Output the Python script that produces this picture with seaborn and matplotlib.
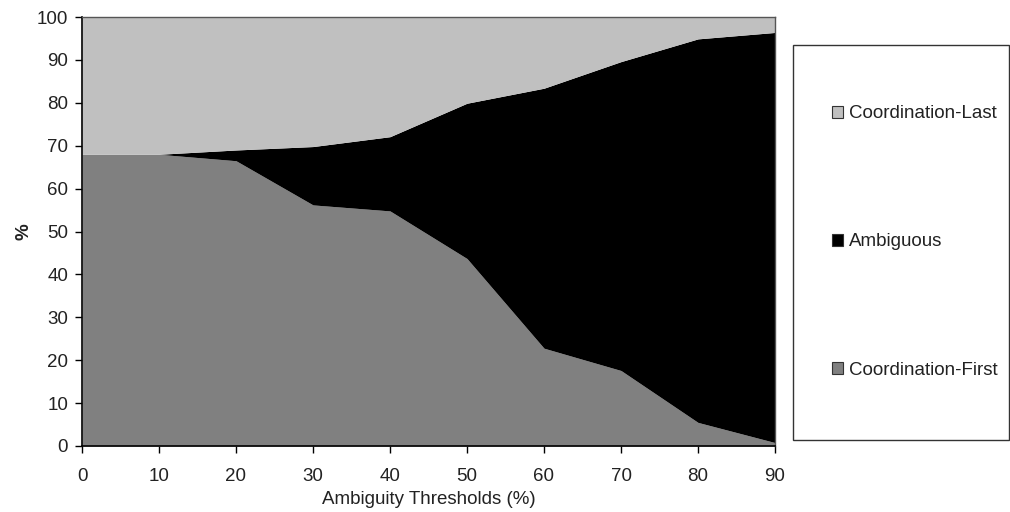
import matplotlib
matplotlib.use("Agg")
import matplotlib.pyplot as plt
from matplotlib.patches import Patch, Rectangle
import seaborn as sns
import numpy as np

thresholds = [0, 10, 20, 30, 40, 50, 60, 70, 80, 90]
coord_first = [68.0, 68.0, 66.5, 56.2, 54.8, 43.7, 22.8, 17.6, 5.5, 0.8]
ambig_top = [68.0, 68.0, 69.0, 69.8, 72.1, 79.9, 83.4, 89.6, 94.9, 96.4]
ambiguous = [t - f for t, f in zip(ambig_top, coord_first)]
coord_last = [100 - t for t in ambig_top]

labels = ["Coordination-First", "Ambiguous", "Coordination-Last"]
colors = ["#808080", "#000000", "#c0c0c0"]

sns.set_theme(style="white")
plt.rcParams['font.family'] = ['Liberation Sans', 'DejaVu Sans']

FS = 13.5
fig = plt.figure(figsize=(10.1, 5.12), dpi=100)
ax = fig.add_axes([82/1010, 66/512, (775-82)/1010, (446-17)/512])

ax.stackplot(thresholds, coord_first, ambiguous, coord_last, colors=colors,
             labels=labels, linewidth=0)

ax.set_xlim(0, 90)
ax.set_ylim(0, 100)
ax.set_xticks(thresholds)
ax.set_yticks(range(0, 101, 10))
ax.tick_params(axis='both', which='both', direction='out', length=5, width=1,
               color='black', labelsize=FS, labelcolor='#222222',
               left=True, bottom=True)
ax.tick_params(axis='x', pad=11)
ax.tick_params(axis='y', pad=5)
for s in ['left', 'bottom']:
    ax.spines[s].set_color('black')
    ax.spines[s].set_linewidth(1.2)
for s in ['top', 'right']:
    ax.spines[s].set_color('#555555')
    ax.spines[s].set_linewidth(1.0)

ax.set_xlabel("Ambiguity Thresholds (%)", fontsize=FS, color='#222222', labelpad=4)
ax.set_ylabel("%", fontsize=FS, fontweight='bold', color='#222222', labelpad=3)

# legend frame
fig.patches.append(Rectangle((793/1010, (512-440)/512), (1009-793)/1010, (440-45)/512,
                             transform=fig.transFigure, facecolor='white',
                             edgecolor='#333333', linewidth=1.0))
handles = [Patch(facecolor=c, edgecolor='#333333', linewidth=0.8) for c in colors[::-1]]
fig.legend(handles, labels[::-1], loc='center left',
           bbox_to_anchor=(815/1010, (512-242)/512), frameon=False,
           fontsize=FS, labelspacing=5.93, handlelength=0.6, handleheight=0.6,
           handletextpad=0.3, labelcolor='#222222')

fig.savefig("out.png", dpi=100)
